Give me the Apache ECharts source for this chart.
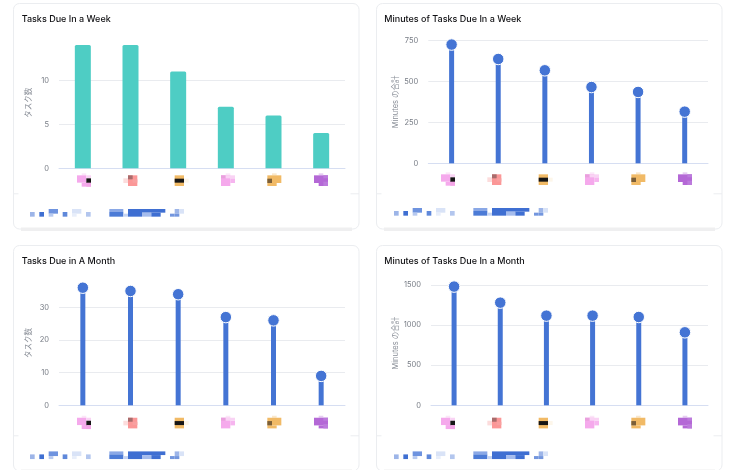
<!DOCTYPE html>
<html><head><meta charset="utf-8">
<style>html,body{margin:0;padding:0;background:#fff}#c{width:750px;height:470px}</style>
<script src="https://cdn.jsdelivr.net/npm/echarts@6/dist/echarts.min.js"></script>
</head><body><div id="c"></div>
<script>
// Category names are pixelated (unreadable) in the reference, so placeholders index them.
const categories = ['1','2','3','4','5','6'];
const tasksWeek = [14,14,11,7,6,4];
const minutesWeek = [724,636,567,465,435,315];
const tasksMonth = [36,35,34,27,26,9];
const minutesMonth = [1480,1280,1118,1118,1101,910];
const titles = ['Tasks Due In a Week','Minutes of Tasks Due In a Week','Tasks Due in A Month','Minutes of Tasks Due In a Month'];
const yNames = ['タスク数','Minutes の合計','タスク数','Minutes の合計'];

// Decoration only: mosaic blocks standing in for the redacted labels, in 1/3 px units.
const P='#f5a9ec',PL='#f9d3f4',R='#fb9797',O='#f1ba66',V='#b468d6',B='#3f6fd2';
const mosaic = [
 [245,520,14,6,'#fbe6f8'],[231,526,28,22,P],[259,526,14,9,PL],[245,548,28,12,P],[259,535,14,14,'#161616'],[259,548,14,12,'#f3a5e6'],
 [370,535,14,14,'#fcdcdc'],[384,526,28,32,R],[384,526,14,12,'#a96c6c'],[398,538,14,10,'#f8a0a0'],
 [524,526,28,32,O],[524,536,28,12,'#161616'],[552,536,14,12,'#fdf6ea'],
 [677,520,14,6,'#fbe6f8'],[663,526,28,32,P],[663,526,14,9,'#e9a0dd'],[691,535,14,14,'#f6b5ef'],[677,526,28,9,PL],
 [816,520,14,6,'#f9e8cd'],[802,526,42,23,O],[802,549,28,9,O],[802,536,14,13,'#7b5f38'],
 [956,520,14,6,'#e6cdf2'],[942,526,42,23,V],[956,549,28,9,V],[970,526,14,9,'#bc7bdc'],[970,545,14,13,'#bc7bdc'],
 [90,636,14,14,'#9db5e8'],[118,636,14,14,B],[146,627,28,14,'#6e93df'],[146,641,14,9,'#b8caef'],[188,636,14,14,'#5f88da'],
 [216,627,28,14,'#d9e3f7'],[216,641,14,9,'#e8eefa'],[258,636,14,14,'#b3c6ee'],
 [328,627,42,9,'#8aa8e6'],[328,636,42,14,'#4c7bd6'],[370,641,14,9,'#c5d4f3'],[384,627,42,23,B],[426,627,70,11,B],
 [426,638,28,12,'#a5bced'],[454,638,28,12,B],[510,641,14,9,'#7396de'],[524,627,14,14,'#9db5e8'],[524,641,14,9,'#7396de'],[538,627,14,14,'#d9e3f7']
];

const cards = [
 {x:13.5,y:3.5,mx:0,my:0,tx:21.7,ty:19},
 {x:376.5,y:3.5,mx:364,my:-1,tx:384.3,ty:19},
 {x:13.5,y:245.5,mx:0,my:242.4,tx:21.7,ty:261},
 {x:376.5,y:245.5,mx:364,my:242.4,tx:384.3,ty:261}
];
const grids = [
 {left:59,right:405,top:45.1,height:123.2},
 {left:428.3,right:42,top:40.3,height:123},
 {left:59,right:405,top:287.7,height:117.6},
 {left:431,right:42,top:285,height:120.3}
];
const axes = [{max:14,interval:5},{max:750,interval:250},{max:36,interval:10},{max:1500,interval:500}];
const datas = [tasksWeek,minutesWeek,tasksMonth,minutesMonth];
const gaps = [27,28.5,27,31.5];
const namePad = [[0,0,0,8],[0,0,0,0],[0,0,0,7],[0,0,0,4]];

const graphic = [];
cards.forEach((c,i)=>{
  graphic.push({type:'rect',silent:true,z:-10,shape:{x:c.x,y:c.y,width:345.5,height:225.5,r:6},style:{fill:'#fff',stroke:'#ebedf0',lineWidth:1}});
  const dy=c.y+190.3;
  graphic.push({type:'line',silent:true,z:-9,shape:{x1:c.x,y1:dy,x2:c.x+5,y2:dy},style:{stroke:'#ebedf0',lineWidth:1}});
  graphic.push({type:'line',silent:true,z:-9,shape:{x1:c.x+337,y1:dy,x2:c.x+345.5,y2:dy},style:{stroke:'#ebedf0',lineWidth:1}});
  graphic.push({type:'rect',silent:true,z:-9,shape:{x:c.x+7.5,y:c.y+224,width:331,height:3.5},style:{fill:'#efeff0'}});
  graphic.push({type:'text',silent:true,x:c.tx,y:c.ty,style:{text:titles[i],fill:'#111114',font:'500 9px Inter',textVerticalAlign:'middle'}});
  mosaic.forEach(m=>graphic.push({type:'rect',silent:true,z:-5,
    shape:{x:m[0]/3+c.mx,y:m[1]/3+c.my,width:m[2]/3,height:m[3]/3},style:{fill:m[4]}}));
});

const series=[];
datas.forEach((d,i)=>{
  if(i===0){
    series.push({type:'bar',xAxisIndex:0,yAxisIndex:0,data:d,barWidth:16,itemStyle:{color:'#4ecdc4',borderRadius:[1.5,1.5,0,0]},silent:true});
  }else{
    series.push({type:'bar',xAxisIndex:i,yAxisIndex:i,data:d,barWidth:5,itemStyle:{color:'#4474d4'},silent:true});
    series.push({type:'scatter',xAxisIndex:i,yAxisIndex:i,data:d,symbolSize:11.5,clip:false,z:3,
      itemStyle:{color:'#4474d4',borderColor:'#fff',borderWidth:1,opacity:1},silent:true});
  }
});

const chart=echarts.init(document.getElementById('c'),null,{renderer:'canvas'});
chart.setOption({
  animation:false,
  backgroundColor:'#fff',
  graphic:graphic,
  grid:grids.map(g=>({left:g.left,right:g.right,top:g.top,height:g.height,containLabel:false})),
  xAxis:grids.map((g,i)=>({type:'category',gridIndex:i,data:categories,
    axisTick:{show:false},axisLabel:{show:false},
    axisLine:{lineStyle:{color:'#d6def2',width:1}}})),
  yAxis:axes.map((a,i)=>({type:'value',gridIndex:i,min:0,max:a.max,interval:a.interval,
    name:yNames[i],nameLocation:'middle',nameGap:gaps[i],
    nameTextStyle:{color:'#8a8f98',fontSize:7.5,fontFamily:'Inter, "Noto Sans CJK JP"',padding:namePad[i]},
    axisLine:{show:false},axisTick:{show:false},
    axisLabel:{color:'#777c85',fontSize:7.5,fontFamily:'Inter',margin:10,showMaxLabel:i===1||i===3,
      formatter:v=>String(v),padding:[1,0,0,0]},
    splitLine:{show:true,showMaxLine:i===1||i===3,lineStyle:{color:'#e9ebef',width:1}}})),
  series:series
});
</script></body></html>
